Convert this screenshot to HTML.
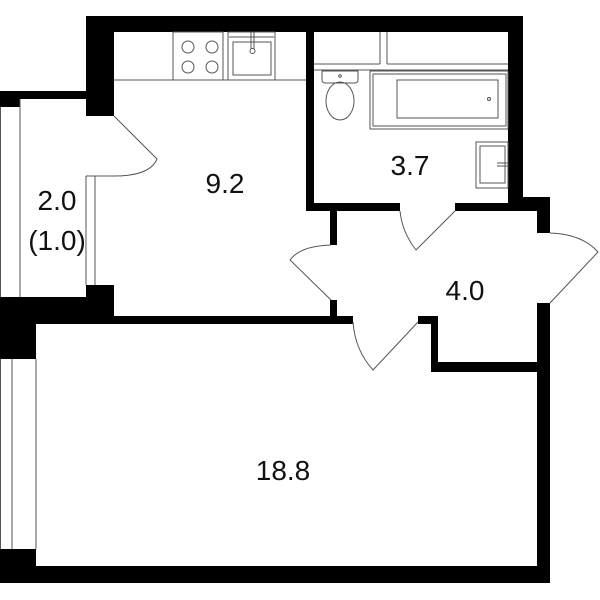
<!DOCTYPE html>
<html><head><style>html,body{margin:0;padding:0;background:#fff}svg{display:block}</style></head>
<body>
<svg width="600" height="600" viewBox="0 0 600 600" xmlns="http://www.w3.org/2000/svg">
<g fill="#000">
<rect x="86" y="16" width="437" height="16"/>
<rect x="86" y="16" width="28" height="100"/>
<rect x="0" y="91" width="86" height="8"/>
<rect x="0" y="91" width="20" height="16"/>
<rect x="86" y="285" width="28" height="14"/>
<rect x="0" y="297" width="114" height="20"/>
<rect x="0" y="297" width="36" height="62"/>
<rect x="36" y="316" width="317" height="8"/>
<rect x="86" y="297" width="28" height="27"/>
<rect x="306" y="16" width="8" height="195"/>
<rect x="306" y="203" width="94" height="8"/>
<rect x="455" y="203" width="60" height="8"/>
<rect x="508" y="16" width="15" height="195"/>
<rect x="508" y="197" width="42" height="14"/>
<rect x="537" y="197" width="13" height="36"/>
<rect x="537" y="303" width="13" height="280"/>
<rect x="330" y="211" width="7" height="34"/>
<rect x="330" y="300" width="7" height="22"/>
<rect x="418" y="316" width="19" height="8"/>
<rect x="431" y="316" width="7" height="56"/>
<rect x="431" y="362" width="119" height="10"/>
<rect x="0" y="549" width="36" height="34"/>
<rect x="0" y="566" width="550" height="17"/>
</g>
<g fill="none" stroke="#555" stroke-width="1">
<line x1="0.5" y1="107" x2="0.5" y2="297"/>
<line x1="20" y1="99" x2="20" y2="297"/>
<line x1="86" y1="176" x2="86" y2="285"/>
<line x1="95" y1="176" x2="95" y2="285"/>
<line x1="86" y1="176" x2="114" y2="176"/>
<line x1="0.5" y1="359" x2="0.5" y2="549"/>
<line x1="12" y1="359" x2="12" y2="549"/>
<line x1="36" y1="359" x2="36" y2="549"/>
<line x1="114" y1="80" x2="306" y2="80"/>
<rect x="173" y="32" width="50" height="48"/>
<circle cx="188" cy="47" r="6"/><circle cx="212" cy="47" r="6"/>
<circle cx="188" cy="67" r="6"/><circle cx="212" cy="67" r="6"/>
<rect x="228" y="32" width="47" height="48"/>
<rect x="233" y="42" width="38" height="33"/>
<line x1="229" y1="37" x2="274" y2="37"/>
<line x1="251" y1="32" x2="251" y2="49"/><line x1="254" y1="32" x2="254" y2="49"/>
<circle cx="252.5" cy="51" r="2.5"/>
<line x1="380" y1="32" x2="380" y2="64"/>
<line x1="387" y1="32" x2="387" y2="64"/>
<line x1="314" y1="64" x2="380" y2="64"/>
<line x1="387" y1="64" x2="508" y2="64"/>
<line x1="314" y1="70" x2="508" y2="70"/>
<path d="M322 71 h36 v9 a3 3 0 0 1 -3 3 h-30 a3 3 0 0 1 -3 -3z"/>
<ellipse cx="340" cy="101" rx="14" ry="19"/>
<circle cx="340" cy="76" r="1.3"/>
<rect x="370" y="71" width="138" height="58"/>
<rect x="373" y="74" width="133" height="52"/>
<rect x="397" y="80" width="101" height="38"/>
<circle cx="489" cy="99" r="1.5"/>
<rect x="476" y="142" width="32" height="46"/>
<rect x="480" y="146" width="25" height="37"/>
<line x1="497" y1="163" x2="508" y2="163"/><line x1="497" y1="166" x2="508" y2="166"/>
<path d="M114 116 L157 159 Q150 176 114 176"/>
<path d="M455 211 L416 250 Q402 232 400 211"/>
<path d="M331 300 L290 260 Q300 246 331 245"/>
<path d="M550 303 L598 252 Q582 234 550 233"/>
<path d="M418 322 L373 370 Q355 350 353 322"/>
</g>
<g font-family="'Liberation Sans', sans-serif" font-size="28" fill="#111" text-anchor="middle">
<text x="225" y="193">9.2</text>
<text x="57" y="210">2.0</text>
<text x="57" y="250">(1.0)</text>
<text x="410" y="175">3.7</text>
<text x="465" y="300">4.0</text>
<text x="283" y="480">18.8</text>
</g>
</svg>
</body></html>
